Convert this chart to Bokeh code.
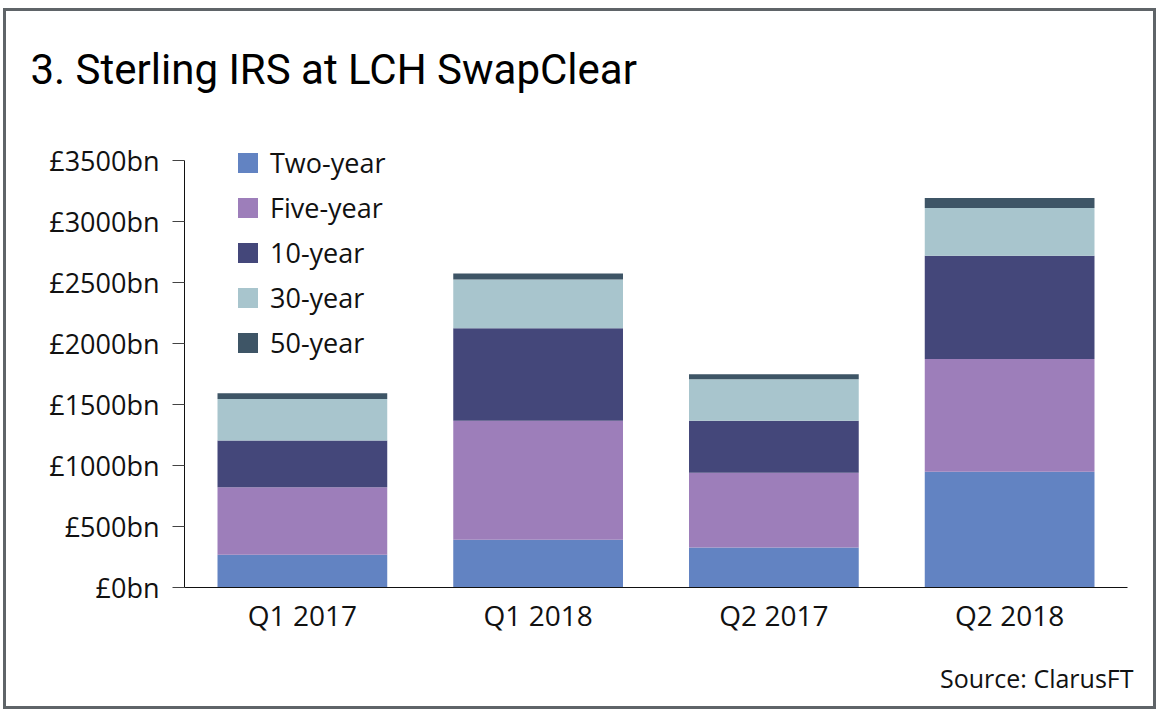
from bokeh.plotting import figure
from bokeh.models import FactorRange, Range1d, FixedTicker, Legend, LegendItem, Title
from bokeh.embed import file_html
from bokeh.resources import INLINE

categories = ["Q1 2017", "Q1 2018", "Q2 2017", "Q2 2018"]
series = ["Two-year", "Five-year", "10-year", "30-year", "50-year"]
two_year = [268, 392, 328, 950]
five_year = [555, 977, 613, 925]
ten_year = [384, 758, 427, 846]
thirty_year = [339, 400, 340, 392]
fifty_year = [47, 49, 41, 82]
colors = ["#6283c2", "#9d7eba", "#44477a", "#a8c5cd", "#3e5566"]
y_ticks = [0, 500, 1000, 1500, 2000, 2500, 3000, 3500]
y_tick_labels = ["£0bn", "£500bn", "£1000bn", "£1500bn", "£2000bn", "£2500bn", "£3000bn", "£3500bn"]

FONT = "Open Sans"
BORDER = "linear-gradient(#5f6468, #5f6468)"

p = figure(x_range=FactorRange(*categories), y_range=Range1d(0, 3700),
           width=1160, height=716, output_backend="svg", toolbar_location=None,
           min_border_left=184, min_border_right=33, min_border_top=136, min_border_bottom=129)
p.border_fill_alpha = 0
p.styles = {
    "background-image": ", ".join([BORDER] * 4),
    "background-position": "3px 8px, 3px 706px, 3px 8px, 1153px 8px",
    "background-size": "1153px 3px, 1153px 3px, 3px 701px, 3px 701px",
    "background-repeat": "no-repeat",
}

data = {"cat": categories, "Two-year": two_year, "Five-year": five_year,
        "10-year": ten_year, "30-year": thirty_year, "50-year": fifty_year}
renderers = p.vbar_stack(series, x="cat", width=0.72, color=colors, line_color=None, source=data)

p.xgrid.visible = False
p.ygrid.visible = False
p.outline_line_color = None

p.yaxis.bounds = (0, 3500)
p.yaxis.ticker = FixedTicker(ticks=y_ticks)
p.yaxis.major_label_overrides = {t: l for t, l in zip(y_ticks, y_tick_labels)}
p.yaxis.major_label_text_font = FONT
p.yaxis.major_label_text_font_size = "27px"
p.yaxis.major_label_text_color = "#111111"
p.yaxis.major_tick_out = 12
p.yaxis.major_tick_in = 0
p.yaxis.minor_tick_out = 0
p.yaxis.minor_tick_in = 0
p.yaxis.major_tick_line_color = "#444444"
p.yaxis.axis_line_color = "#111111"
p.yaxis.major_label_standoff = 13

p.xaxis.major_label_text_font = FONT
p.xaxis.major_label_text_font_size = "28px"
p.xaxis.major_label_text_color = "#111111"
p.xaxis.major_tick_out = 0
p.xaxis.major_tick_in = 0
p.xaxis.axis_line_color = "#111111"
p.xaxis.major_label_standoff = 8

legend = Legend(items=[LegendItem(label=s, renderers=[r]) for s, r in zip(series, renderers)],
                location=(51, 226), label_text_font=FONT, label_text_font_size="27px",
                label_text_color="#111111", glyph_width=25, glyph_height=25, label_standoff=10,
                spacing=8, padding=0, margin=0, border_line_color=None, background_fill_alpha=0)
p.add_layout(legend, "center")

top_spacer = Title(text=" ", text_font=FONT, text_font_size="19px", text_color="white")
p.add_layout(top_spacer, "above")
title = Title(text="3. Sterling IRS at LCH SwapClear", align="left", offset=-154,
              text_font="Roboto", text_font_size="42px", text_font_style="normal", text_color="#000000")
p.add_layout(title, "above")

bottom_spacer = Title(text=" ", text_font=FONT, text_font_size="4px", text_color="white")
p.add_layout(bottom_spacer, "below")
source = Title(text="Source: ClarusFT", align="right", offset=-6,
               text_font=FONT, text_font_size="25px", text_font_style="normal", text_color="#111111")
p.add_layout(source, "below")

open("out.html", "w").write(file_html(p, INLINE))
